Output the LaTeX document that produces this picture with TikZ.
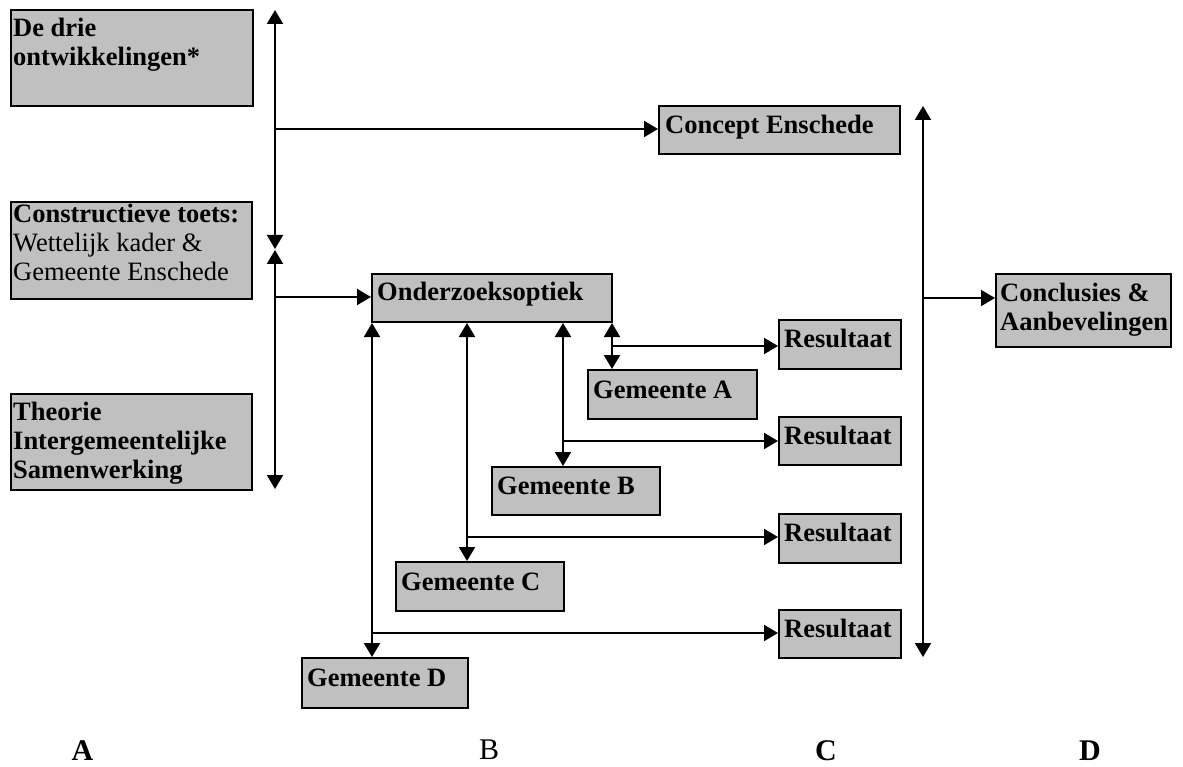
\documentclass[tikz,border=0pt]{standalone}
\usepackage{fontspec}
\setmainfont{Liberation Serif}
\usetikzlibrary{arrows.meta,calc}
\definecolor{boxgray}{HTML}{C0C0C0}
\newcommand\fl{\rule{0pt}{22pt}}
\begin{document}
\begin{tikzpicture}[x=1pt,y=-1pt,
  box/.style={draw, fill=boxgray, line width=2pt, inner sep=0pt, anchor=north west},
  txt/.style={font=\fontsize{26.5}{29}\selectfont\bfseries, inner sep=0pt, align=left, anchor=north west},
  one/.style={font=\fontsize{26.5}{29}\selectfont\bfseries, inner sep=0pt, anchor=base west},
  conn/.style={line width=2pt},
  tip/.style={-{Triangle[length=14pt,width=16pt]}},
  bitip/.style={{Triangle[length=14pt,width=16pt]}-{Triangle[length=14pt,width=16pt]}},
  lbl/.style={font=\fontsize{30}{33}\selectfont, inner sep=0pt, anchor=base},
  lblb/.style={lbl, font=\fontsize{30}{33}\selectfont\bfseries}]

\useasboundingbox (0,0) rectangle (1183,767);

% boxes
\node[box, minimum width=242, minimum height=96] (b1) at (10,9) {};
\node[box, minimum width=241, minimum height=97] (b2) at (10,201) {};
\node[box, minimum width=241, minimum height=96] (b3) at (10,393) {};
\node[box, minimum width=241, minimum height=48] (concept) at (658,105) {};
\node[box, minimum width=240, minimum height=48] (onder) at (371,273) {};
\node[box, minimum width=169, minimum height=49] (gA) at (587,369) {};
\node[box, minimum width=168, minimum height=48] (gB) at (491,466) {};
\node[box, minimum width=168, minimum height=49] (gC) at (395,561) {};
\node[box, minimum width=166, minimum height=50] (gD) at (301,657) {};
\node[box, minimum width=122, minimum height=49] (r1) at (778,319) {};
\node[box, minimum width=122, minimum height=48] (r2) at (778,416) {};
\node[box, minimum width=122, minimum height=49] (r3) at (778,513) {};
\node[box, minimum width=122, minimum height=48] (r4) at (778,609) {};
\node[box, minimum width=175, minimum height=73] (concl) at (995,273) {};

% texts
\node[txt] (t1) at (13,14.5) {\fl De drie\\ontwikkelingen*};
\node[txt] (t2) at (13,200) {\fl Constructieve toets:\\{\mdseries Wettelijk kader \&}\\{\mdseries Gemeente Enschede}};
\node[txt] (t3) at (13,398) {\fl Theorie\\Intergemeentelijke\\Samenwerking};
\node[txt] (tconcl) at (1000,279.7) {\fl Conclusies \&\\Aanbevelingen};
\node[one] (tconcept) at (665,133.5) {Concept Enschede};
\node[one] (tonder) at (377,301) {Onderzoeksoptiek};
\node[one] (tgA) at (593,398) {Gemeente A};
\node[one] (tgB) at (497,494.5) {Gemeente B};
\node[one] (tgC) at (401,590) {Gemeente C};
\node[one] (tgD) at (307,686) {Gemeente D};
\node[one] (tr1) at (784,347) {Resultaat};
\node[one] (tr2) at (784,444) {Resultaat};
\node[one] (tr3) at (784,541) {Resultaat};
\node[one] (tr4) at (784,637) {Resultaat};

% bottom letters
\node[lblb] (lA) at (82.5,760) {A};
\node[lbl] (lB) at (489,759) {B};
\node[lblb] (lC) at (826,760) {C};
\node[lblb] (lD) at (1090,760) {D};

% left vertical connectors
\coordinate (p1) at (275,10);
\coordinate (p2) at (275,249);
\coordinate (p3) at (275,250);
\coordinate (p4) at (275,489);
\draw[conn,bitip] (p1) -- (p2);
\draw[conn,bitip] (p3) -- (p4);
\coordinate (c1) at (275,129);
\coordinate (c2) at (275,297);
\draw[conn,tip] (c1) -- (c1 -| concept.west);
\draw[conn,tip] (c2) -- (c2 -| onder.west);

% from Onderzoeksoptiek to Gemeenten and Resultaten
\coordinate (dA) at (612,346);
\coordinate (dB) at (563,441);
\coordinate (dC) at (467,537);
\coordinate (dD) at (372,633);
\draw[conn,bitip] (dA |- onder.south) -- (dA |- gA.north);
\draw[conn,bitip] (dB |- onder.south) -- (dB |- gB.north);
\draw[conn,bitip] (dC |- onder.south) -- (dC |- gC.north);
\draw[conn,bitip] (dD |- onder.south) -- (dD |- gD.north);
\draw[conn,tip] (dA) -- (dA -| r1.west);
\draw[conn,tip] (dB) -- (dB -| r2.west);
\draw[conn,tip] (dC) -- (dC -| r3.west);
\draw[conn,tip] (dD) -- (dD -| r4.west);

% right vertical connector
\coordinate (q1) at (923,106);
\coordinate (q2) at (923,657);
\coordinate (q3) at (923,298);
\draw[conn,bitip] (q1) -- (q2);
\draw[conn,tip] (q3) -- (q3 -| concl.west);
\end{tikzpicture}
\end{document}
